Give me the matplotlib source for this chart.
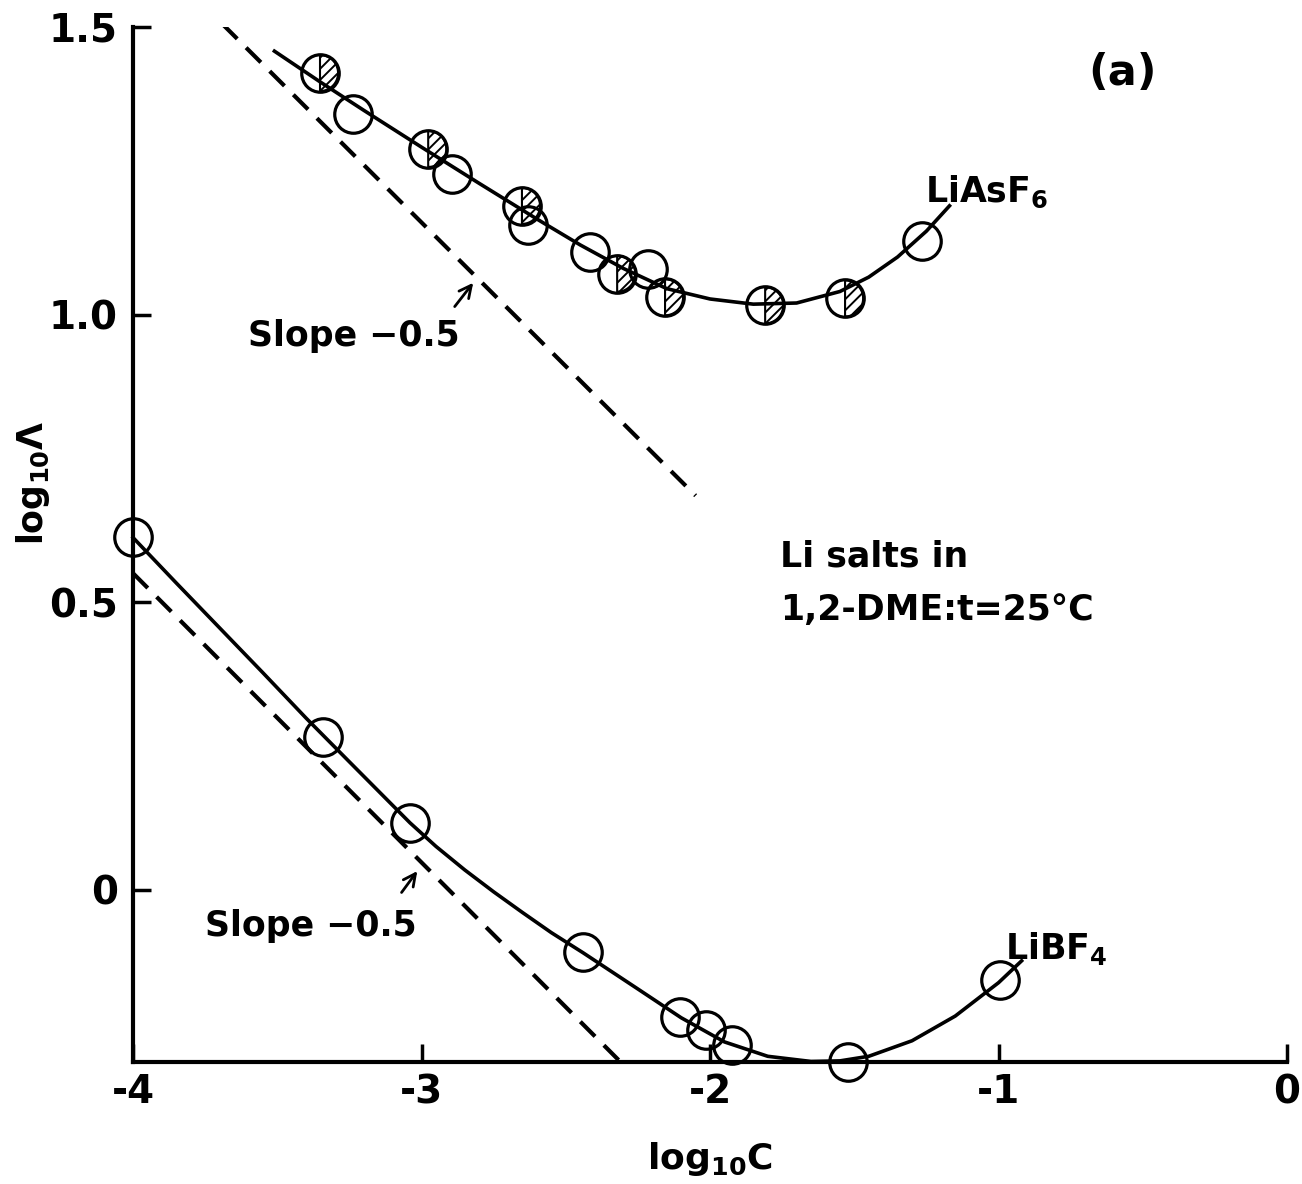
import numpy as np
import matplotlib.pyplot as plt
from matplotlib.path import Path

plt.rcParams['font.family'] = 'DejaVu Sans'
plt.rcParams['font.weight'] = 'bold'
plt.rcParams['mathtext.default'] = 'bf'
plt.rcParams['hatch.linewidth'] = 1.4

# LiAsF6 points: open circles and half-hatched circles
asf6_open_x = [-3.237, -2.894, -2.631, -2.416, -2.215, -1.265]
asf6_open_y = [1.349, 1.245, 1.156, 1.108, 1.080, 1.127]
asf6_hatch_x = [-3.352, -2.977, -2.652, -2.322, -2.156, -1.809, -1.532]
asf6_hatch_y = [1.420, 1.288, 1.189, 1.071, 1.030, 1.016, 1.028]

# LiAsF6 smooth curve
asf6_curve_x = [-3.51, -3.35, -3.20, -3.00, -2.80, -2.60, -2.45, -2.30, -2.15,
                -2.00, -1.85, -1.70, -1.55, -1.45, -1.35, -1.25, -1.17]
asf6_curve_y = [1.458, 1.404, 1.355, 1.291, 1.228, 1.166, 1.121, 1.080, 1.045,
                1.027, 1.018, 1.020, 1.040, 1.065, 1.100, 1.145, 1.189]

# LiBF4 points
bf4_x = [-4.0, -3.341, -3.04, -2.44, -2.104, -2.014, -1.924, -1.522, -0.995]
bf4_y = [0.613, 0.266, 0.116, -0.108, -0.222, -0.245, -0.271, -0.300, -0.158]

# LiBF4 smooth curve
bf4_curve_x = [-4.00, -3.85, -3.70, -3.55, -3.40, -3.25, -3.04, -2.95, -2.85, -2.75,
               -2.65, -2.55, -2.44, -2.25, -2.10, -1.95, -1.80, -1.65, -1.55, -1.45,
               -1.30, -1.15, -1.00, -0.92]
bf4_curve_y = [0.612, 0.533, 0.455, 0.377, 0.298, 0.222, 0.116, 0.075, 0.034, -0.004,
               -0.040, -0.075, -0.110, -0.173, -0.223, -0.265, -0.290, -0.299, -0.298, -0.290,
               -0.263, -0.220, -0.162, -0.124]

# slope -0.5 reference lines (end points)
slope_up_x = [-3.69, -2.05]
slope_up_y = [1.505, 0.685]
slope_lo_x = [-4.0, -2.31]
slope_lo_y = [0.55, -0.30]

xticks = [-4, -3, -2, -1, 0]
xtick_labels = ['-4', '-3', '-2', '-1', '0']
yticks = [0, 0.5, 1.0, 1.5]
ytick_labels = ['0', '0.5', '1.0', '1.5']

fig = plt.figure(figsize=(13.02, 11.84), dpi=100)
ax = fig.add_axes([0.1022, 0.1030, 0.8863, 0.8742])
ax.set_xlim(-4, 0)
ax.set_ylim(-0.3, 1.5)

for s in ['top', 'right']:
    ax.spines[s].set_visible(False)
for s in ['left', 'bottom']:
    ax.spines[s].set_linewidth(3)

ax.set_xticks(xticks)
ax.set_xticklabels(xtick_labels)
ax.set_yticks(yticks)
ax.set_yticklabels(ytick_labels)
ax.tick_params(direction='in', length=13, width=2.5, labelsize=28)
ax.tick_params(axis='x', pad=8)
ax.tick_params(axis='y', pad=11)

# curves
ax.plot(asf6_curve_x, asf6_curve_y, color='k', lw=2.6, clip_on=False)
ax.plot(bf4_curve_x, bf4_curve_y, color='k', lw=2.6, clip_on=False)
ax.plot(slope_up_x, slope_up_y, color='k', lw=3, dashes=(5, 3))
ax.plot(slope_lo_x, slope_lo_y, color='k', lw=3, dashes=(5, 3))

# markers
ms = 27
ax.plot(asf6_open_x, asf6_open_y, 'o', ms=ms, mfc='none', mec='k', mew=2.3, clip_on=False)
ax.plot(asf6_hatch_x, asf6_hatch_y, 'o', ms=ms, mfc='none', mec='k', mew=2.3, clip_on=False)
ax.plot(bf4_x, bf4_y, 'o', ms=ms, mfc='none', mec='k', mew=2.3, clip_on=False)

# right half of the circle hatched, with a vertical divider
th = np.linspace(-np.pi / 2, np.pi / 2, 40)
half = np.column_stack([np.cos(th), np.sin(th)])
half = np.vstack([[0, -1], half, [0, 1], [0, -1]])
half_marker = Path(half, closed=True)
ax.scatter(asf6_hatch_x, asf6_hatch_y, s=(ms - 1) ** 2, marker=half_marker,
           facecolors='none', edgecolors='k', linewidths=1.5, hatch='///',
           clip_on=False, zorder=3)

# text
ax.text(-0.69, 1.42, '(a)', fontsize=31, va='center', ha='left')
ax.text(-1.255, 1.196, 'LiAsF$_6$', fontsize=25, va='baseline')
ax.text(-0.977, -0.12, 'LiBF$_4$', fontsize=25, va='baseline')
ax.text(-3.60, 0.946, 'Slope \u22120.5', fontsize=25, va='baseline')
ax.text(-3.75, -0.080, 'Slope \u22120.5', fontsize=25, va='baseline')
ax.text(-1.757, 0.562, 'Li salts in', fontsize=25, va='baseline')
ax.text(-1.757, 0.468, '1,2-DME:t=25\u00b0C', fontsize=25, va='baseline')

arrow = dict(arrowstyle='->', lw=2, color='k', mutation_scale=22)
ax.annotate('', xy=(-2.815, 1.059), xytext=(-2.891, 1.010), arrowprops=arrow)
ax.annotate('', xy=(-3.009, 0.036), xytext=(-3.075, -0.009), arrowprops=arrow)

ax.set_xlabel('log$_{10}$C', fontsize=26, fontweight='bold')
ax.xaxis.set_label_coords(0.5, -0.075)
ax.set_ylabel('log$_{10}$\u039b', fontsize=25, fontweight='bold')
ax.yaxis.set_label_coords(-0.070, 0.56)

fig.savefig('out.png', dpi=100)
